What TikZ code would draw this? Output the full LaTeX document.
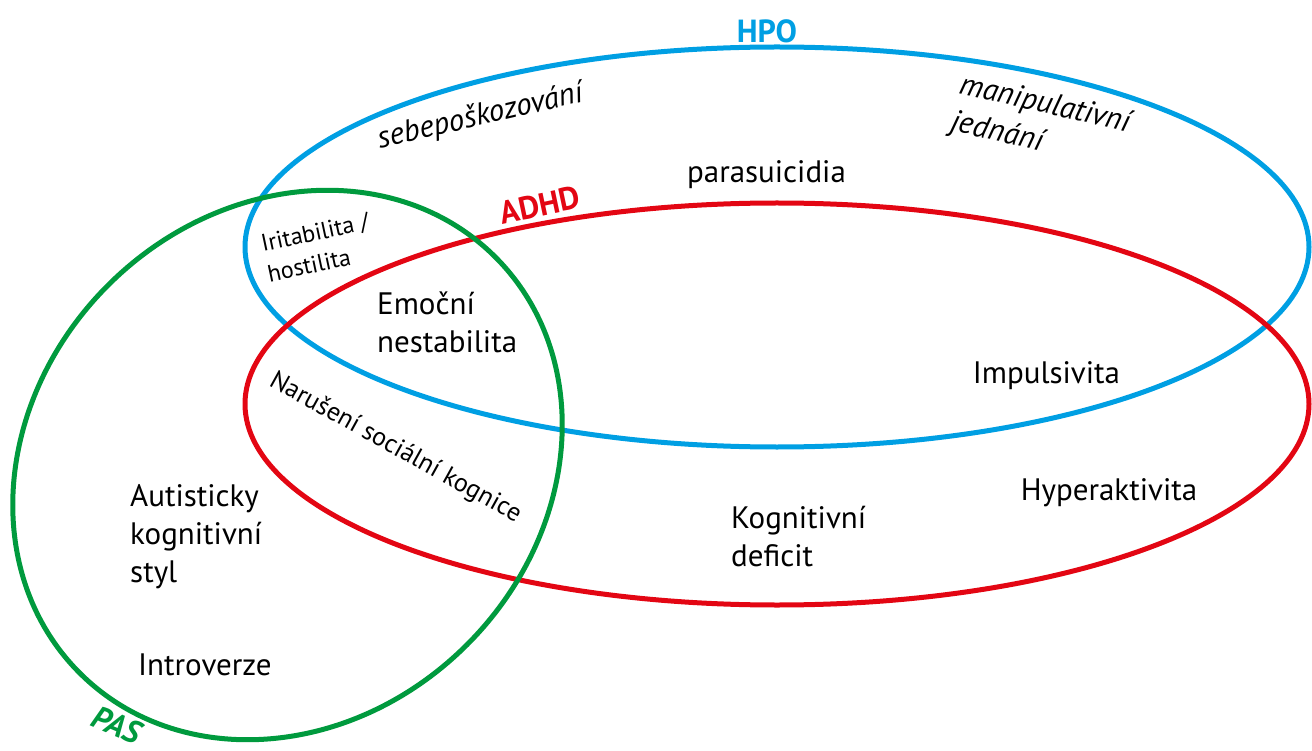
\documentclass[tikz,border=0pt]{standalone}
\usepackage{fontspec}
\setmainfont{PT Sans}
\definecolor{hpoblue}{HTML}{009FE3}
\definecolor{adhdred}{HTML}{E30613}
\definecolor{pasgreen}{HTML}{009A3E}
\newcommand{\lines}[1]{\begin{tabular}[t]{@{}l@{}}#1\end{tabular}}
\begin{document}
\begin{tikzpicture}[x=1pt,y=1pt,
  ring/.style={line width=5pt},
  lbl/.style={inner sep=0pt, font=\fontsize{31}{38}\selectfont},
  slbl/.style={inner sep=0pt, font=\fontsize{24}{31}\selectfont},
  nlbl/.style={inner sep=0pt, font=\fontsize{26}{31}\selectfont},
  ilbl/.style={inner sep=0pt, font=\fontsize{31}{38}\selectfont\itshape},
  title/.style={inner sep=0pt, font=\fontsize{32}{38}\selectfont\bfseries}]
\useasboundingbox (0,0) rectangle (1312,-751);
% sets
\draw[ring, hpoblue] (777,-247) ellipse [x radius=532, y radius=200];
\draw[ring, adhdred] (777,-404) ellipse [x radius=532, y radius=201];
\draw[ring, pasgreen, rotate around={45:(287.5,-465)}] (287.5,-465) ellipse [x radius=294, y radius=254];
% set titles
\node[title, text=hpoblue] (thpo) at (767,-31) {HPO};
\node[title, text=adhdred, rotate=12] (tadhd) at (540,-205) {ADHD};
\node[title, text=pasgreen, rotate=-23] (tpas) at (117,-725) {\itshape PAS};
% labels
\node[ilbl, anchor=base, rotate=13] (sebe) at (482,-125) {sebepoškozování};
\node[ilbl, anchor=base west, rotate=-13] (mani) at (958,-93) {\lines{manipulativní\\jednání}};
\node[lbl, anchor=base] (para) at (766.5,-183) {parasuicidia};
\node[slbl, anchor=base west, rotate=12] (irit) at (263,-252) {\lines{Iritabilita /\\hostilita}};
\node[lbl, anchor=base west] (emoc) at (377,-315) {\lines{Emoční\\nestabilita}};
\node[nlbl, anchor=base, rotate=-29] (naru) at (392,-454) {Narušení sociální kognice};
\node[lbl, anchor=base] (impu) at (1046.5,-383) {Impulsivita};
\node[lbl, anchor=base] (hype) at (1109,-500) {Hyperaktivita};
\node[lbl, anchor=base west] (kogn) at (731,-528) {\lines{Kognitivní\\deficit}};
\node[lbl, anchor=base west] (auti) at (130,-506) {\lines{Autisticky\\kognitivní\\styl}};
\node[lbl, anchor=base west] (intr) at (138,-675) {Introverze};
\end{tikzpicture}
\end{document}
